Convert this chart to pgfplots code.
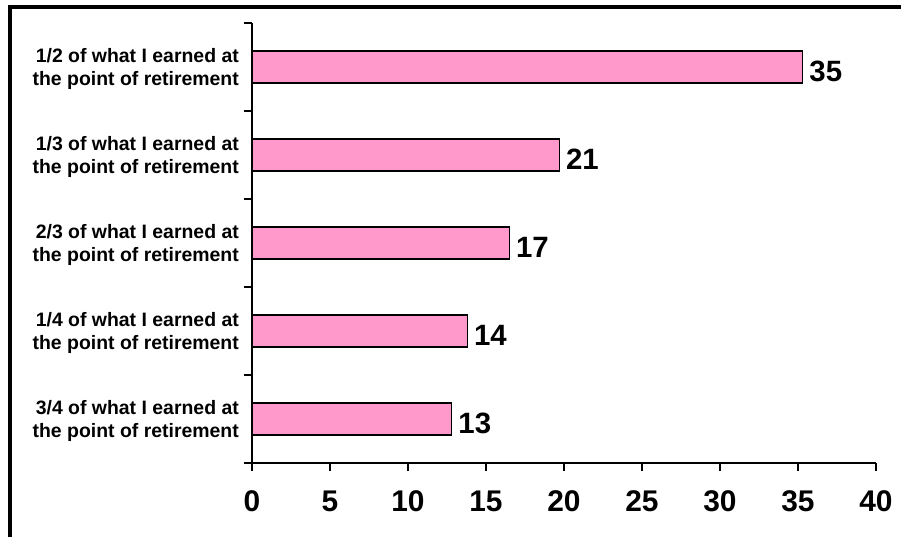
\documentclass[border=0pt]{standalone}
\usepackage{pgfplots}
\pgfplotsset{compat=1.18}
\usepackage{fontspec}
\setmainfont{Liberation Sans}
\definecolor{barpink}{RGB}{255,153,204}
\begin{document}
\begin{tikzpicture}
\useasboundingbox (0bp,0bp) rectangle (901bp,537bp);
\clip (0bp,0bp) rectangle (901bp,537bp);
\draw[line width=4bp] (8bp,530bp) -- (901bp,530bp);
\draw[line width=4bp] (10bp,532bp) -- (10bp,0bp);
\begin{axis}[
  at={(252bp,74bp)}, anchor=south west,
  scale only axis, width=624bp, height=440bp,
  xmin=0, xmax=40, ymin=-0.5, ymax=4.5,
  axis x line*=bottom, axis y line*=left,
  axis line style={-, line width=1.5bp, black},
  xbar, bar width=32bp,
  xtick={0,5,...,40},
  ytick={0,1,2,3,4},
  yticklabels={{3/4 of what I earned at\\the point of retirement},
               {1/4 of what I earned at\\the point of retirement},
               {2/3 of what I earned at\\the point of retirement},
               {1/3 of what I earned at\\the point of retirement},
               {1/2 of what I earned at\\the point of retirement}},
  minor ytick={-0.5,0.5,...,4.5},
  tick align=outside, tick pos=left,
  major tick length=8bp, minor tick length=8bp,
  tick style={line width=1.5bp, black},
  major y tick style={draw=none},
  /pgf/number format/assume math mode=true,
  xticklabel style={font=\bfseries\fontsize{30}{34}\selectfont, yshift=-16bp},
  yticklabel style={font=\bfseries\fontsize{19.5}{23}\selectfont, align=right, inner xsep=0pt, xshift=-5bp, yshift=-2bp},
  nodes near coords,
  point meta=explicit symbolic,
  nodes near coords style={font=\bfseries\fontsize{29.5}{33}\selectfont, anchor=west, inner sep=0pt, xshift=6bp, yshift=-4bp},
]
\addplot[fill=barpink, draw=black, line width=1.5bp] coordinates {
  (12.8,0) [13]
  (13.8,1) [14]
  (16.5,2) [17]
  (19.7,3) [21]
  (35.3,4) [35]
};
\node[font=\bfseries\fontsize{17}{20}\selectfont, anchor=west, inner sep=0pt] at ([xshift=12bp,yshift=3bp]rel axis cs:1,0) {\%};
\end{axis}
\end{tikzpicture}
\end{document}
